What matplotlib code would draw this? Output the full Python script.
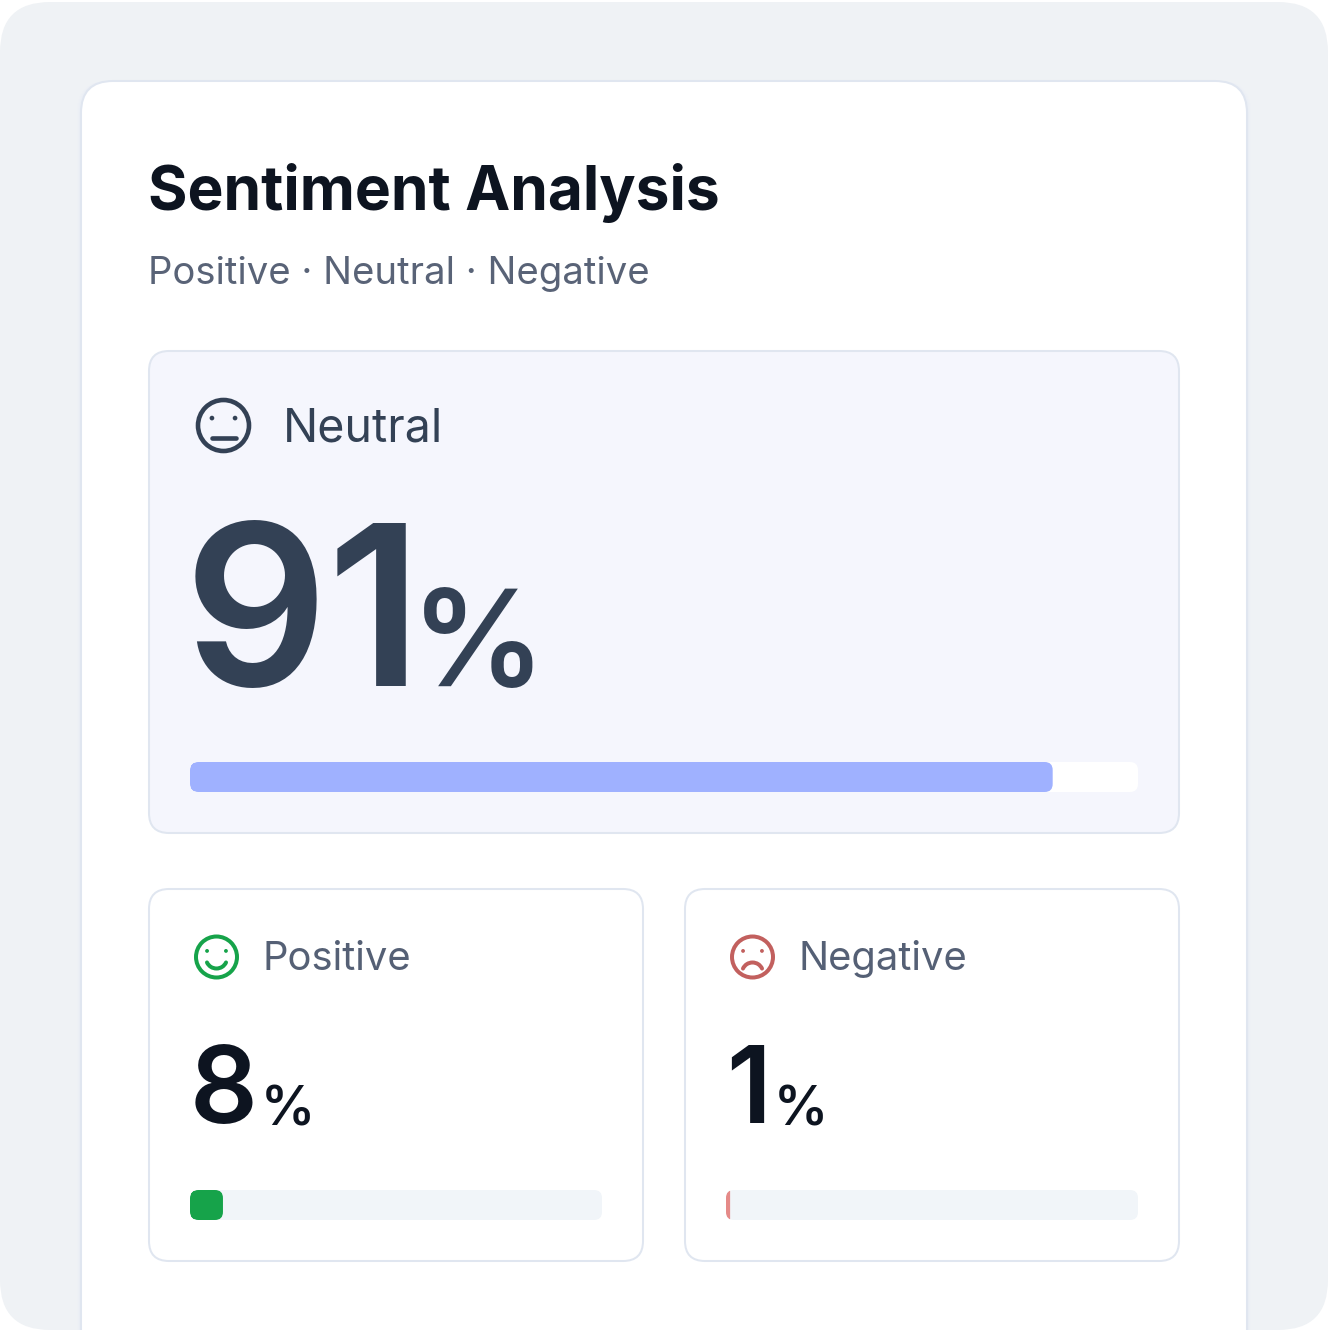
import matplotlib
matplotlib.use("Agg")
import matplotlib.pyplot as plt
from matplotlib.patches import FancyBboxPatch, Circle, Arc

# =========================
# DATA
# =========================
sentiments = ["Neutral", "Positive", "Negative"]
percents = [91, 8, 1]
title = "Sentiment Analysis"
subtitle = "Positive · Neutral · Negative"

# =========================
# STYLE
# =========================
W, H = 1328, 1330
plt.rcParams['font.family'] = ['Inter', 'DejaVu Sans']
PX = 0.72  # px to pt at dpi 100

fig = plt.figure(figsize=(W / 100, H / 100), dpi=100, facecolor='white')
ax = fig.add_axes([0, 0, 1, 1])
ax.set_xlim(0, W)
ax.set_ylim(H, 0)
ax.axis('off')


def rbox(x0, y0, x1, y1, r, fc, ec='none', lw=0, z=1):
    p = FancyBboxPatch((x0, y0), x1 - x0, y1 - y0,
                       boxstyle=f"round,pad=0,rounding_size={r}",
                       fc=fc, ec=ec, lw=lw, zorder=z)
    ax.add_patch(p)
    return p


# background + card
rbox(0, 2, W, H, 50, '#eff2f5')
card_clip = rbox(0, 0, W, H, 50, 'none')
for i, a in enumerate([0.10, 0.16, 0.25]):
    s = rbox(77 + i, 81, 1251 - i, H + 60, 32, '#e6ebf5', z=1.1)
    s.set_alpha(a)
    s.set_clip_path(card_clip)
card = rbox(81, 81, 1247, H + 60, 32, 'white', '#e0e6f0', 1.45, z=1.2)
card.set_clip_path(card_clip)

ax.text(148, 210, title, fontsize=60.5 * PX, fontweight='bold', color='#0d1420', va='baseline', zorder=3)
ax.text(148, 284, subtitle, fontsize=38.3 * PX, color='#596377', va='baseline', zorder=3)

# =========================
# PANELS
# =========================
panels = [
    dict(box=(149, 351, 1179, 833), fc='#f5f6fd', track=(190, 762, 1138, 792), track_c='white',
         bar_c='#9fb1ff', icon=(223.5, 425.5, 27.5), icon_c='#334155', label_xy=(282.5, 442), label_size=46.6,
         label_c='#334155', num_xy=(184, 686), num_size=225, num_c='#334155', num_w='semibold',
         pct_xy=(411, 686), pct_size=134, mouth='flat'),
    dict(box=(149, 889, 643, 1261), fc='white', track=(190, 1190, 602, 1220), track_c='#f1f5f9',
         bar_c='#16a34a', icon=(216.5, 957, 22.5), icon_c='#16a34a', label_xy=(263, 970), label_size=40,
         label_c='#556075', num_xy=(190, 1123), num_size=106, num_c='#0d1420', num_w='semibold',
         pct_xy=(261, 1125), pct_size=54, mouth='smile'),
    dict(box=(685, 889, 1179, 1261), fc='white', track=(726, 1190, 1138, 1220), track_c='#f1f5f9',
         bar_c='#e58a88', icon=(752.5, 957, 22.5), icon_c='#c2605e', label_xy=(799, 970), label_size=40,
         label_c='#556075', num_xy=(726, 1123), num_size=106, num_c='#0d1420', num_w='semibold',
         pct_xy=(774, 1125), pct_size=54, mouth='frown'),
]

for name, value, p in zip(sentiments, percents, panels):
    x0, y0, x1, y1 = p['box']
    rbox(x0, y0, x1, y1, 20, p['fc'], '#e0e6f0', 1.45, z=2)

    # progress bar
    tx0, ty0, tx1, ty1 = p['track']
    track = rbox(tx0, ty0, tx1, ty1, 8, p['track_c'], z=2.1)
    clip = rbox(tx0, ty0, tx1, ty1, 8, 'none', z=2.1)
    bar_w = (tx1 - tx0) * value / 100
    fill = rbox(tx0, ty0, tx0 + bar_w, ty1, 8 if bar_w > 16 else 0.5, p['bar_c'], z=2.2)
    fill.set_clip_path(clip)

    # face icon
    cx, cy, r = p['icon']
    c = p['icon_c']
    lw = 4.6 * PX if r > 25 else 4.0 * PX
    ax.add_patch(Circle((cx, cy), r - 2, fc='none', ec=c, lw=lw, zorder=3))
    ex, ey = r * 0.42, r * 0.27
    for sx in (-1, 1):
        ax.add_patch(Circle((cx + sx * ex, cy - ey), r * 0.085, fc=c, ec='none', zorder=3))
    if p['mouth'] == 'flat':
        ax.plot([cx - 12, cx + 12], [cy + 12, cy + 12], color=c, lw=lw, solid_capstyle='round', zorder=3)
    elif p['mouth'] == 'smile':
        ax.add_patch(Arc((cx, cy + 1), 21, 21, theta1=25, theta2=155, ec=c, lw=lw, capstyle='round', zorder=3))
    else:
        ax.add_patch(Arc((cx, cy + 16), 21, 21, theta1=205, theta2=335, ec=c, lw=lw, capstyle='round', zorder=3))

    ax.text(*p['label_xy'], name, fontsize=p['label_size'] * PX, color=p['label_c'], va='baseline', zorder=3)
    ax.text(*p['num_xy'], str(value), fontsize=p['num_size'] * PX, color=p['num_c'],
            fontweight=p['num_w'], va='baseline', zorder=3)
    ax.text(*p['pct_xy'], '%', fontsize=p['pct_size'] * PX, color=p['num_c'],
            fontweight='semibold', va='baseline', zorder=3)

plt.savefig('out.png', dpi=100)
